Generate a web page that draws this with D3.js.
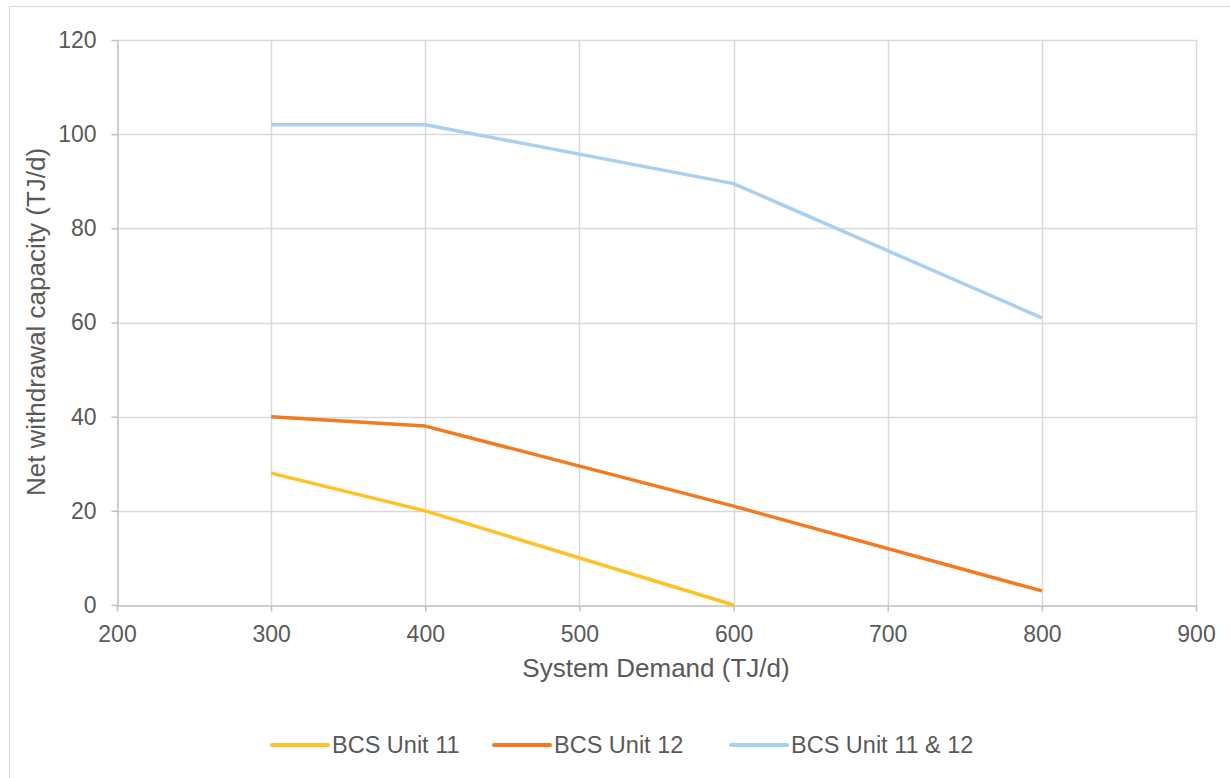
<!DOCTYPE html>
<html><head><meta charset="utf-8">
<script src="https://cdn.jsdelivr.net/npm/d3@7"></script>
<style>body{margin:0;background:#fff}svg{display:block;font-family:"Liberation Sans",Arial,sans-serif}</style>
</head><body>
<svg id="c" width="1230" height="778"></svg>
<script>
const xTicks = [200,300,400,500,600,700,800,900];
const yTicks = [0,20,40,60,80,100,120];
const seriesNames = ["BCS Unit 11","BCS Unit 12","BCS Unit 11 & 12"];
const unit11 = [[300,28],[400,20],[600,0]];
const unit12 = [[300,40],[400,38],[600,21],[800,3]];
const unitBoth = [[300,102],[400,102],[600,89.5],[800,61]];
const colors = ["#FFC125","#F47A20","#A9D0F0"];

const svg = d3.select("#c");
svg.append("rect").attr("x",9.5).attr("y",6.5).attr("width",1230).attr("height",800).attr("fill","none").attr("stroke","#d9d9d9");

const x = d3.scaleLinear().domain([200,900]).range([117,1196]);
const y = d3.scaleLinear().domain([0,120]).range([605,40]);

const g = svg.append("g");
g.selectAll(".hg").data(yTicks.filter(d=>d>0)).join("line")
 .attr("x1",x(200)).attr("x2",x(900)).attr("y1",d=>Math.round(y(d))+0.5).attr("y2",d=>Math.round(y(d))+0.5)
 .attr("stroke","#d9d9d9").attr("stroke-width",1.5);
g.selectAll(".vg").data(xTicks.filter(d=>d>200)).join("line")
 .attr("y1",y(0)).attr("y2",y(120)).attr("x1",d=>Math.round(x(d))+0.5).attr("x2",d=>Math.round(x(d))+0.5)
 .attr("stroke","#d9d9d9").attr("stroke-width",1.5);

const xAxis = svg.append("g").attr("transform",`translate(0,${Math.round(y(0))+0.5})`)
 .call(d3.axisBottom(x).tickValues(xTicks).tickSize(6).tickSizeOuter(0).tickPadding(14));
const yAxis = svg.append("g").attr("transform",`translate(${Math.round(x(200))+0.5},0)`)
 .call(d3.axisLeft(y).tickValues(yTicks).tickSize(6).tickSizeOuter(0).tickPadding(15));
[xAxis,yAxis].forEach(a=>{
  a.select(".domain").attr("stroke","#bfbfbf").attr("stroke-width",1.5);
  a.selectAll(".tick line").attr("stroke","#bfbfbf").attr("stroke-width",1.5);
  a.selectAll(".tick text").attr("fill","#595959").style("font-size","23px").style("font-family","Liberation Sans, Arial, sans-serif");
});

const line = d3.line().x(d=>x(d[0])).y(d=>y(d[1]));
[unit11,unit12,unitBoth].forEach((s,i)=>{
  svg.append("path").datum(s).attr("d",line).attr("fill","none").attr("stroke",colors[i]).attr("stroke-width",3.5).attr("stroke-linejoin","round");
});

svg.append("text").attr("x",656).attr("y",677).attr("text-anchor","middle").attr("fill","#595959").style("font-size","26px").text("System Demand (TJ/d)");
svg.append("text").attr("transform","translate(45,322) rotate(-90)").attr("text-anchor","middle").attr("fill","#595959").style("font-size","26px").text("Net withdrawal capacity (TJ/d)");

const legX = [272,494,731];
seriesNames.forEach((n,i)=>{
  svg.append("line").attr("x1",legX[i]).attr("x2",legX[i]+56).attr("y1",745).attr("y2",745).attr("stroke",colors[i]).attr("stroke-width",4).attr("stroke-linecap","round");
  svg.append("text").attr("x",legX[i]+60).attr("y",753).attr("fill","#595959").style("font-size","23.5px").text(n);
});
</script>
</body></html>
